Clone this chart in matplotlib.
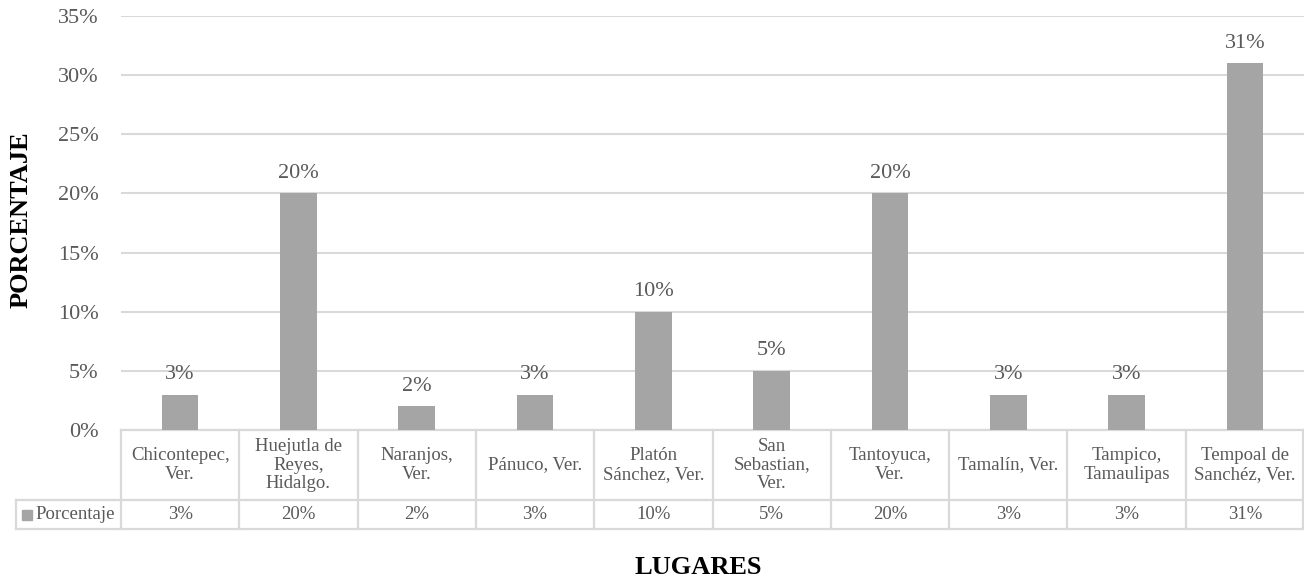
import matplotlib.pyplot as plt
from matplotlib.patches import Rectangle

plt.rcParams['font.family'] = ['Liberation Serif', 'DejaVu Serif']

lugares = ["Chicontepec,\nVer.", "Huejutla de\nReyes,\nHidalgo.", "Naranjos,\nVer.",
           "Pánuco, Ver.", "Platón\nSánchez, Ver.", "San\nSebastian,\nVer.",
           "Tantoyuca,\nVer.", "Tamalín, Ver.", "Tampico,\nTamaulipas",
           "Tempoal de\nSanchéz, Ver."]
porcentaje = [3, 20, 2, 3, 10, 5, 20, 3, 3, 31]
serie = "Porcentaje"

bar_color = "#A5A5A5"
grid_color = "#D9D9D9"
text_color = "#595959"

W, H = 1304, 579
fig = plt.figure(figsize=(W / 100, H / 100), dpi=100)
ax = fig.add_axes([121 / W, 1 - 430 / H, 1183 / W, 414 / H])

x = list(range(len(porcentaje)))
ax.bar(x, porcentaje, width=0.31, color=bar_color, zorder=3)
for xi, v in zip(x, porcentaje):
    ax.text(xi, v + 0.9, f"{v}%", ha="center", va="bottom", fontsize=16, color=text_color)

ax.set_xlim(-0.5, len(x) - 0.5)
ax.set_ylim(0, 35)
ax.set_yticks(range(0, 36, 5))
ax.set_yticklabels([f"{t}%" for t in range(0, 36, 5)], fontsize=16, color=text_color)
ax.tick_params(axis="y", length=0, pad=16)
ax.set_xticks([])
ax.yaxis.grid(True, color=grid_color, linewidth=1.5, zorder=0)
for s in ax.spines.values():
    s.set_visible(False)

# data table under the plot
px = 1 / 118.3  # data units per pixel in x
ppy = 1 / 414   # axes units per pixel in y
row1 = -70 * ppy
row2 = -99 * ppy
left = -0.5 - 105 * px
right = 9.5 - 1 * px
tr = ax.get_xaxis_transform()
lk = dict(color=grid_color, linewidth=1.6, transform=tr, clip_on=False)
ax.plot([-0.5, right], [0, 0], **lk)
ax.plot([left, right], [row1, row1], **lk)
ax.plot([left, right], [row2, row2], **lk)
ax.plot([left, left], [row1, row2], **lk)
for b in range(len(x)):
    ax.plot([b - 0.5, b - 0.5], [0, row2], **lk)
ax.plot([right, right], [0, row2], **lk)
for xi, lab, v in zip(x, lugares, porcentaje):
    ax.text(xi, row1 / 2, lab, ha="center", va="center", fontsize=13.5,
            color=text_color, transform=tr, linespacing=1.15)
    ax.text(xi, (row1 + row2) / 2, f"{v}%", ha="center", va="center", fontsize=13.5,
            color=text_color, transform=tr)
ax.add_patch(Rectangle((left + 6 * px, (row1 + row2) / 2 - 5 * ppy), 10 * px, 10 * ppy,
                       color=bar_color, transform=tr, clip_on=False))
ax.text(left + 19 * px, (row1 + row2) / 2, serie, ha="left", va="center", fontsize=13.5,
        color=text_color, transform=tr)

fig.text(21 / W, 1 - 220 / H, "PORCENTAJE", rotation=90, ha="center", va="center",
         fontsize=19, fontweight="bold")
fig.text(698 / W, 1 - 567 / H, "LUGARES", ha="center", va="center",
         fontsize=19, fontweight="bold")

fig.savefig("out.png", dpi=100)
